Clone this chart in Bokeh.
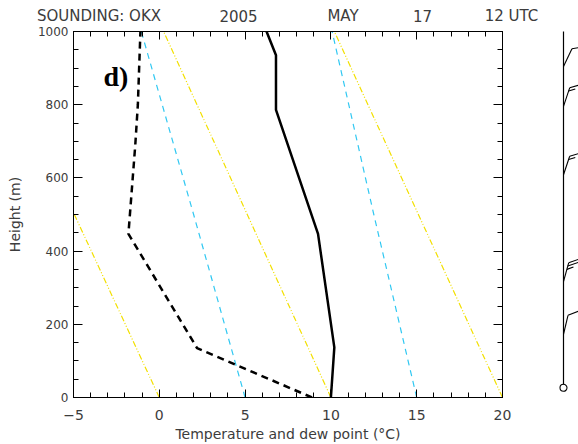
import math
from bokeh.plotting import figure
from bokeh.models import LinearAxis, SingleIntervalTicker, Range1d, Label
from bokeh.layouts import row, column
from bokeh.embed import file_html
from bokeh.resources import INLINE
from bokeh.core.properties import value

# ---------------- data ----------------
temp_height = [0, 137, 447, 786, 935, 1000]
temp_c = [10.0, 10.2, 9.25, 6.8, 6.8, 6.25]

dew_height = [0, 135, 447, 690, 800, 1000]
dew_c = [8.9, 2.2, -1.8, -1.4, -1.25, -1.1]

# dry adiabats (yellow): temperature at 0 m and at 1000 m
dry_height = [0, 1000]
dry_t_surface = [0, 10, 20]
dry_t_top = [-9.9, 0.25, 10.2]

# moist adiabats (cyan)
moist_height = [0, 500, 1000]
moist_from_5 = [5, 2.0, -1.05]
moist_from_15 = [15, 12.5, 10.07]

# wind barbs
wind_height = [150, 298, 598, 790, 902]
wind_dir = [13, 15, 18, 18, 25]
wind_kt = [10, 25, 15, 15, 10]

title_parts = ["SOUNDING: OKX", "2005", "MAY", "17", "12 UTC"]
panel_label = "d)"
x_title = "Temperature and dew point (\u00b0C)"
y_title = "Height (m)"

# ---------------- layout ----------------
TOTAL_W = 578
TITLE_H = 24
FIG_W, FIG_H = 538, 420
B_LEFT, B_RIGHT, B_TOP, B_BOTTOM = 73, 36, 7, 47
FRAME_H = FIG_H - B_TOP - B_BOTTOM
X0, X1, Y0, Y1 = -5, 20, 0, 1000
PX_PER_M = FRAME_H / (Y1 - Y0)

TXT = "#3c3c3c"
FONT = "DejaVu Sans"

# ---- title strip ----
pt = figure(width=TOTAL_W, height=TITLE_H, x_range=Range1d(0, TOTAL_W),
            y_range=Range1d(0, TITLE_H), output_backend="svg", toolbar_location=None,
            x_axis_location=None, y_axis_location=None,
            min_border_left=0, min_border_right=0, min_border_top=0, min_border_bottom=0)
pt.xgrid.visible = False
pt.ygrid.visible = False
pt.outline_line_color = None
title_cx = [98.5, 238, 342.5, 422, 511]
pt.text(x=title_cx, y=[9.0] * len(title_parts), text=title_parts,
        text_font=value(FONT), text_font_size=value("15px"), text_color=TXT,
        text_align="center", text_baseline="middle")

# ---- main chart ----
p = figure(width=FIG_W, height=FIG_H, x_range=Range1d(X0, X1), y_range=Range1d(Y0, Y1),
           output_backend="svg", toolbar_location=None,
           min_border_left=B_LEFT, min_border_right=B_RIGHT,
           min_border_top=B_TOP, min_border_bottom=B_BOTTOM)
p.xgrid.visible = False
p.ygrid.visible = False
p.outline_line_color = "black"

xt = SingleIntervalTicker(interval=5, num_minor_ticks=5)
yt = SingleIntervalTicker(interval=200, num_minor_ticks=4)

def style_common(ax, major_in, minor_in, labels, size, standoff):
    ax.axis_line_color = "black"
    ax.major_tick_line_color = "black"
    ax.minor_tick_line_color = "black"
    ax.major_tick_in = major_in
    ax.major_tick_out = 0
    ax.minor_tick_in = minor_in
    ax.minor_tick_out = 0
    if labels:
        ax.major_label_text_font_size = size
        ax.major_label_text_font = FONT
        ax.major_label_text_color = TXT
        ax.major_label_standoff = standoff
    else:
        ax.major_label_text_font_size = "1px"
        ax.major_label_text_color = None
        ax.major_label_standoff = 0

def style_x(ax, labels=True):
    ax.ticker = xt
    style_common(ax, 8, 5, labels, "14px", 12)

def style_y(ax, labels=True):
    ax.ticker = yt
    style_common(ax, 9, 5, labels, "12px", 5)

style_x(p.xaxis[0])
style_y(p.yaxis[0])
p.xaxis[0].axis_label = x_title
p.yaxis[0].axis_label = y_title
for ax, so in ((p.xaxis[0], 3), (p.yaxis[0], 12)):
    ax.axis_label_text_font = FONT
    ax.axis_label_text_font_size = "14px"
    ax.axis_label_text_font_style = "normal"
    ax.axis_label_text_color = TXT
    ax.axis_label_standoff = so

top_ax = LinearAxis()
style_x(top_ax, labels=False)
p.add_layout(top_ax, "above")
right_ax = LinearAxis()
style_y(right_ax, labels=False)
p.add_layout(right_ax, "right")

# adiabats
for t0, t1 in zip(dry_t_surface, dry_t_top):
    p.line([t0, t1], dry_height, line_color="#f3e000", line_width=1.2,
           line_dash="6 2 1 2 1 2")
for ts in (moist_from_5, moist_from_15):
    p.line(ts, moist_height, line_color="#30c8f2", line_width=1.2, line_dash="6 5")

# temperature and dew point
p.line(temp_c, temp_height, line_color="black", line_width=2.5)
p.line(dew_c, dew_height, line_color="black", line_width=2.5, line_dash="7 5")

p.add_layout(Label(x=-3.25, y=876, text=panel_label, text_font="Liberation Serif",
                   text_font_style="bold", text_font_size="28px", text_color="black",
                   text_baseline="alphabetic", text_align="left"))

# ---------------- wind barb panel ----------------
P2_W = TOTAL_W - FIG_W
STAFF_X = 25
pad_m = 10 / PX_PER_M
p2 = figure(width=P2_W, height=FIG_H, x_range=Range1d(0, P2_W),
            y_range=Range1d(Y0 - pad_m, Y1), output_backend="svg", toolbar_location=None,
            x_axis_location=None, y_axis_location=None,
            min_border_left=0, min_border_right=0, min_border_top=B_TOP,
            min_border_bottom=B_BOTTOM - 10)
p2.xgrid.visible = False
p2.ygrid.visible = False
p2.outline_line_color = None

p2.line([STAFF_X, STAFF_X], [Y0, Y1 + 2 / PX_PER_M], line_color="black", line_width=1.2)

SHAFT = 20
FULL = 12
HALF = 7
SPACE = 3.5
xs, ys = [], []
for h, d, kt in zip(wind_height, wind_dir, wind_kt):
    th = math.radians(d)
    ux, uy = math.sin(th), math.cos(th)
    tipx = STAFF_X + SHAFT * ux
    tipy = h + SHAFT * uy / PX_PER_M
    xs.append([STAFF_X, tipx])
    ys.append([h, tipy])
    ph = math.radians(d + 55)
    vx, vy = math.sin(ph), math.cos(ph)
    n_full = kt // 10
    n_half = 1 if kt % 10 >= 5 else 0
    for k in range(n_full + n_half):
        L = FULL if k < n_full else HALF
        sx = tipx - k * SPACE * ux
        syy = tipy - k * SPACE * uy / PX_PER_M
        xs.append([sx, sx + L * vx])
        ys.append([syy, syy + L * vy / PX_PER_M])
p2.multi_line(xs, ys, line_color="black", line_width=1.1)
p2.scatter(x=[STAFF_X], y=[Y0], size=7, marker="circle", fill_color="white",
           line_color="black", line_width=1.1)

layout = column(pt, row(p, p2))
open("out.html", "w").write(file_html(layout, INLINE))
